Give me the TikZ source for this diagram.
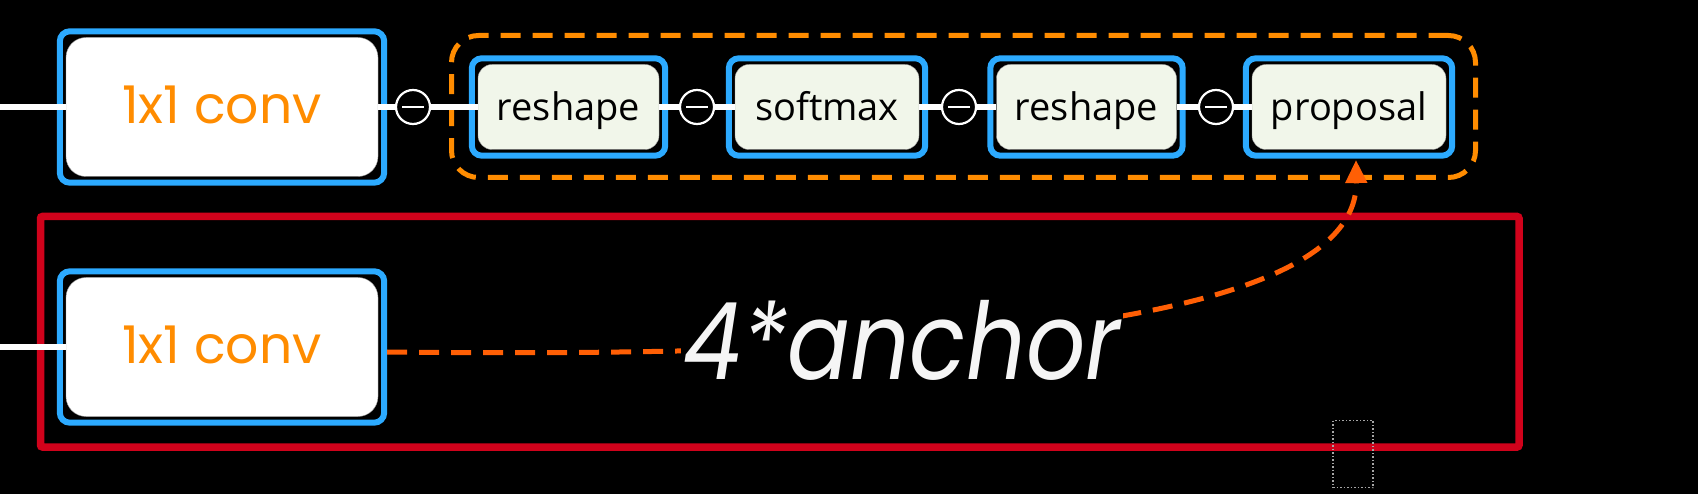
\documentclass[tikz,border=0pt]{standalone}
\usepackage{fontspec}
\setmainfont{Open Sans}
\newfontfamily\popfont{Poppins}
\usetikzlibrary{fit,arrows.meta}
\definecolor{bluec}{RGB}{44,170,255}
\definecolor{orangec}{RGB}{255,140,0}
\definecolor{redc}{RGB}{208,2,27}
\definecolor{curvec}{RGB}{255,95,5}
\definecolor{greenc}{RGB}{241,246,234}
\begin{document}
\begin{tikzpicture}[x=1pt,y=-1pt,
  frameblue/.style={draw=bluec, line width=6pt, rounded corners=10pt, inner sep=6pt},
  convbox/.style={fill=white, draw=black!40, line width=0.4pt, rounded corners=20pt,
    minimum width=312pt, minimum height=139pt, text height=33pt, text depth=0pt, inner sep=0pt,
    font=\popfont\fontsize{52}{60}\selectfont, text=orangec},
  opbox/.style={fill=greenc, draw=black!40, line width=0.4pt, rounded corners=14pt,
    minimum height=85pt, text height=27pt, text depth=0pt, inner sep=0pt,
    font=\fontsize{38}{44}\selectfont, text=black},
  joint/.style={circle, draw=white, line width=2.2pt, fill=black, minimum size=34pt, inner sep=0pt},
  wire/.style={draw=white, line width=5.5pt},
  minus/.style={draw=white, line width=2pt},
  redframe/.style={draw=redc, line width=7.5pt, rounded corners=2pt, inner sep=0pt},
  grpframe/.style={draw=orangec, line width=5pt, dash pattern=on 20pt off 12pt, rounded corners=27pt, inner sep=0pt},
  curvestyle/.style={draw=curvec, line width=5pt, dash pattern=on 20pt off 12pt, -{Triangle[length=23pt,width=21pt]}},
  selbox/.style={draw=black!35!white, line width=1.2pt, dash pattern=on 1.5pt off 2pt, inner sep=0pt},
 ]
\fill[black] (0,0) rectangle (1698,494);
\useasboundingbox (0,0) rectangle (1698,494);

% frames
\node[redframe, minimum width=1478.5pt, minimum height=230.5pt] (frame) at (779.75,331.75) {};
\node[grpframe, minimum width=1024pt, minimum height=142pt] (grp) at (963.5,106.5) {};

% conv boxes
\node[convbox] (conv1) at (222,107) {1x1 conv};
\node[frameblue, fit=(conv1)] (conv1f) {};
\node[convbox] (conv2) at (222,347) {1x1 conv};
\node[frameblue, fit=(conv2)] (conv2f) {};

% op boxes
\node[opbox, minimum width=181pt] (rs1) at (568.5,107) {reshape};
\node[frameblue, fit=(rs1)] (rs1f) {};
\node[opbox, minimum width=184pt] (sm) at (827,107) {softmax};
\node[frameblue, fit=(sm)] (smf) {};
\node[opbox, minimum width=180pt] (rs2) at (1086.5,107) {reshape};
\node[frameblue, fit=(rs2)] (rs2f) {};
\node[opbox, minimum width=194pt] (prop) at (1349,107) {proposal};
\node[frameblue, fit=(prop)] (propf) {};

% joints
\node[joint] (c1) at (413,107) {};
\node[joint] (c2) at (697,107) {};
\node[joint] (c3) at (959,107) {};
\node[joint] (c4) at (1216,107) {};
\foreach \c in {c1,c2,c3,c4}{
  \draw[minus] ([xshift=-11pt]\c.center) -- ([xshift=11pt]\c.center);
}

% wires
\coordinate (in1) at (0,107);
\coordinate (in2) at (0,347);
\draw[wire] (in1) -- (conv1.west);
\draw[wire] (in2) -- (conv2.west);
\draw[wire] (conv1.east) -- (c1.west);
\draw[wire] (c1.east) -- (rs1.west);
\draw[wire] (rs1.east) -- (c2.west);
\draw[wire] (c2.east) -- (sm.west);
\draw[wire] (sm.east) -- (c3.west);
\draw[wire] (c3.east) -- (rs2.west);
\draw[wire] (rs2.east) -- (c4.west);
\draw[wire] (c4.east) -- (prop.west);

% selection box
\node[selbox, minimum width=40pt, minimum height=67pt] (sel) at (1353,454) {};

% anchor curve
\coordinate (tip) at (1356,160);
\draw[curvestyle] ([yshift=-5pt]conv2f.east) .. controls (920,358) and (1358,328) .. (tip);

% label
\node[anchor=base, fill=black, inner sep=3pt, text=white!96!black,
      font=\popfont\itshape\fontsize{107}{120}\selectfont] (anchortxt) at (902,379) {\scalebox{0.87}[1]{4*anchor}};
\end{tikzpicture}
\end{document}
